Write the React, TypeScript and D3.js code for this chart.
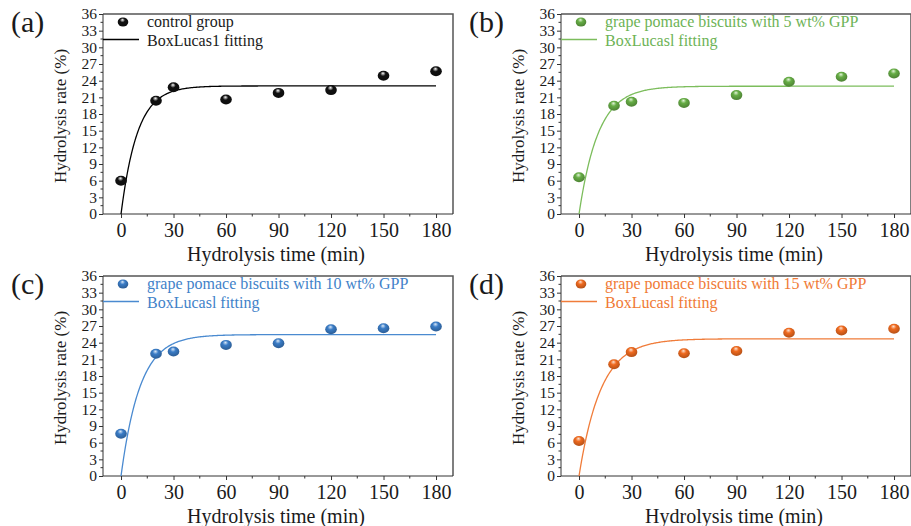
import React, { useEffect, useRef } from "react";
import * as d3 from "d3";

// sampling times (min)
const times = [0, 20, 30, 60, 90, 120, 150, 180];

// hydrolysis rate (%)
const controlValues = [6.0, 20.4, 22.8, 20.6, 21.8, 22.3, 24.9, 25.7];
const gpp5Values = [6.6, 19.5, 20.2, 20.0, 21.4, 23.8, 24.7, 25.3];
const gpp10Values = [7.6, 22.0, 22.4, 23.6, 23.9, 26.4, 26.6, 26.9];
const gpp15Values = [6.3, 20.1, 22.3, 22.1, 22.5, 25.8, 26.2, 26.5];

// BoxLucas1 fit parameters: y = A * (1 - exp(-k t))
const fitA = [23.05, 23.0, 25.45, 24.7];
const fitK = [0.107, 0.091, 0.092, 0.08];

const panelLabels = ["(a)", "(b)", "(c)", "(d)"];
const seriesNames = [
  "control group",
  "grape pomace biscuits with 5 wt% GPP",
  "grape pomace biscuits with 10 wt% GPP",
  "grape pomace biscuits with 15 wt% GPP",
];
const fitNames = ["BoxLucas1 fitting", "BoxLucasl fitting", "BoxLucasl fitting", "BoxLucasl fitting"];

const xTicks = [0, 30, 60, 90, 120, 150, 180];
const xMinor = [15, 45, 75, 105, 135, 165];
const yTicks = [0, 3, 6, 9, 12, 15, 18, 21, 24, 27, 30, 33, 36];
const yMinor = [1.5, 4.5, 7.5, 10.5, 13.5, 16.5, 19.5, 22.5, 25.5, 28.5, 31.5, 34.5];

const allValues = [controlValues, gpp5Values, gpp10Values, gpp15Values];

const colors = [
  { dot: "#111111", hi: "#ffffff", line: "#000000", text: "#1a1a1a" },
  { dot: "#66ad45", hi: "#e4f5da", line: "#7cbd5c", text: "#6db356" },
  { dot: "#3a7cc6", hi: "#dbe9f8", line: "#4a8ad0", text: "#3f82c9" },
  { dot: "#ef6a1f", hi: "#fde3d2", line: "#f07c3a", text: "#f07a35" },
];

const positions = [
  { left: 103, top: 14 },
  { left: 561, top: 14 },
  { left: 103, top: 276 },
  { left: 561, top: 276 },
];

const font = '"Liberation Serif", "Times New Roman", serif';
const ink = "#1a1a1a";

const App = () => {
  const ref = useRef<SVGSVGElement>(null);

  useEffect(() => {
    const svg = d3.select(ref.current);
    svg.selectAll("*").remove();

    const W = 911;
    const H = 526;
    const pw = 350;
    const ph = 200;
    svg.attr("width", W).attr("height", H).style("font-family", font);

    const defs = svg.append("defs");
    colors.forEach((c, i) => {
      const g = defs.append("radialGradient")
        .attr("id", `ball${i}`)
        .attr("cx", "45%").attr("cy", "40%").attr("r", "60%")
        .attr("fx", "45%").attr("fy", "25%");
      g.append("stop").attr("offset", "0%").attr("stop-color", c.hi);
      g.append("stop").attr("offset", "40%").attr("stop-color", c.dot);
      g.append("stop").attr("offset", "100%").attr("stop-color", d3.color(c.dot)!.darker(0.8).toString());
    });

    const x = d3.scaleLinear().domain([-10.3, 189.7]).range([0, pw]);
    const y = d3.scaleLinear().domain([0, 36]).range([ph, 0]);

    positions.forEach((p, i) => {
      const c = colors[i];
      const g = svg.append("g").attr("transform", `translate(${p.left},${p.top})`);

      // frame top + right
      g.append("path")
        .attr("d", `M0,0H${pw}V${ph}`)
        .attr("fill", "none")
        .attr("stroke", "#555")
        .attr("stroke-width", 1.5);

      // x axis
      const xa = g.append("g")
        .attr("transform", `translate(0,${ph})`)
        .call(d3.axisBottom(x).tickValues(xTicks).tickSize(4).tickSizeOuter(0).tickPadding(4));
      xa.attr("font-family", font);
      xa.append("g").selectAll("line")
        .data(xMinor)
        .enter().append("line")
        .attr("x1", (d) => x(d)).attr("x2", (d) => x(d))
        .attr("y1", 0).attr("y2", 2.5)
        .attr("stroke", "#333");
      xa.select(".domain").attr("d", `M0,0H${pw}`).attr("stroke", "#333");
      xa.selectAll(".tick line").attr("stroke", "#333");
      xa.selectAll("text")
        .attr("font-size", 20)
        .attr("fill", ink)
        .attr("dy", "0.75em");

      // y axis
      const ya = g.append("g")
        .call(d3.axisLeft(y).tickValues(yTicks).tickSize(4).tickSizeOuter(0).tickPadding(2));
      ya.attr("font-family", font);
      ya.append("g").selectAll("line")
        .data(yMinor)
        .enter().append("line")
        .attr("x1", 0).attr("x2", -2.5)
        .attr("y1", (d) => y(d)).attr("y2", (d) => y(d))
        .attr("stroke", "#333");
      ya.select(".domain").attr("d", `M0,0V${ph}`).attr("stroke", "#333");
      ya.selectAll(".tick line").attr("stroke", "#333");
      ya.selectAll("text")
        .attr("font-size", 15.5)
        .attr("fill", ink);

      // axis titles
      g.append("text")
        .attr("x", pw / 2 - 2)
        .attr("y", ph + 47)
        .attr("text-anchor", "middle")
        .attr("font-size", 20)
        .attr("fill", ink)
        .text("Hydrolysis time (min)");

      g.append("text")
        .attr("transform", `translate(-37,${ph / 2 + 2}) rotate(-90)`)
        .attr("text-anchor", "middle")
        .attr("font-size", 17)
        .attr("fill", ink)
        .text("Hydrolysis rate (%)");

      // panel label
      g.append("text")
        .attr("x", -92)
        .attr("y", 18)
        .attr("font-size", 30)
        .attr("fill", ink)
        .text(panelLabels[i]);

      // fit curve
      const ts = d3.range(0, 180.01, 0.5);
      const line = d3.line<number>()
        .x((t) => x(t))
        .y((t) => y(fitA[i] * (1 - Math.exp(-fitK[i] * t))));
      g.append("path")
        .datum(ts)
        .attr("fill", "none")
        .attr("stroke", c.line)
        .attr("stroke-width", 1.3)
        .attr("d", line);

      // points
      g.selectAll(".dot")
        .data(allValues[i])
        .enter().append("ellipse")
        .attr("cx", (d, j) => x(times[j]))
        .attr("cy", (d) => y(d))
        .attr("rx", 5.8)
        .attr("ry", 5)
        .attr("fill", `url(#ball${i})`);

      // legend
      g.append("ellipse")
        .attr("cx", 20).attr("cy", 8)
        .attr("rx", 5.3).attr("ry", 4.5)
        .attr("fill", `url(#ball${i})`);
      g.append("text")
        .attr("x", 44).attr("y", 13)
        .attr("font-size", 16)
        .attr("fill", c.text)
        .text(seriesNames[i]);
      g.append("line")
        .attr("x1", 0).attr("x2", 36)
        .attr("y1", 25.5).attr("y2", 25.5)
        .attr("stroke", c.line)
        .attr("stroke-width", 1.3);
      g.append("text")
        .attr("x", 44).attr("y", 32)
        .attr("font-size", 16)
        .attr("fill", c.text)
        .text(fitNames[i]);
    });
  }, []);

  return (
    <svg
      ref={ref}
      style={{ position: "absolute", left: 0, top: 0, background: "#fff" }}
    ></svg>
  );
};

export default App;
